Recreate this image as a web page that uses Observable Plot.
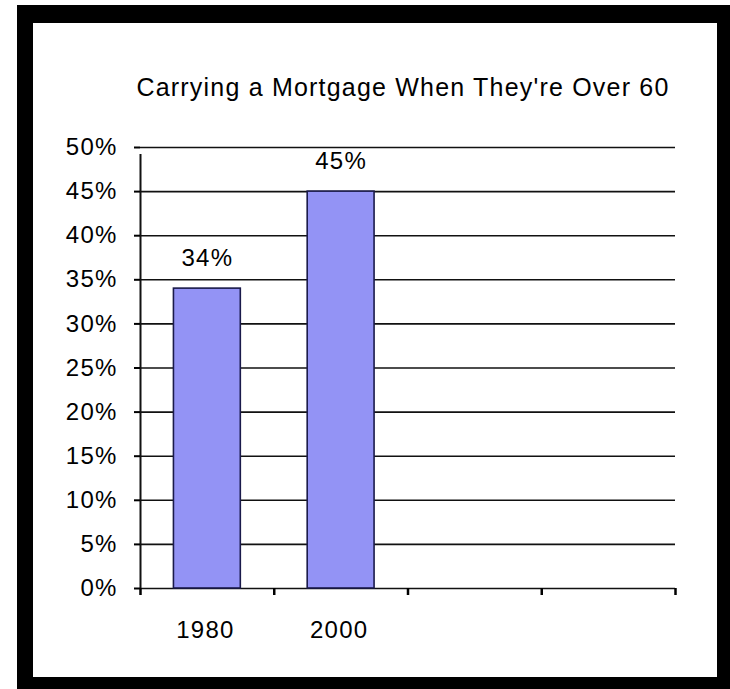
<!DOCTYPE html>
<html>
<head>
<meta charset="utf-8">
<script src="https://cdn.jsdelivr.net/npm/d3@7"></script>
<script src="https://cdn.jsdelivr.net/npm/@observablehq/plot@0.6"></script>
<style>
  html, body { margin: 0; padding: 0; background: #fff; width: 730px; height: 689px; overflow: hidden; }
  #frame { position: absolute; left: 17px; top: 5px; width: 713px; height: 684px; background: #000; }
  #chart { position: absolute; left: 33px; top: 23px; width: 684px; height: 654px; background: #fff; }
  #chart svg { display: block; background: #fff; }
  #chart svg text { letter-spacing: 1.2px; }
</style>
</head>
<body>
<div id="frame"></div>
<div id="chart"></div>
<script>
const title = "Carrying a Mortgage When They're Over 60";
const categories = ["1980", "2000", "", ""];
const values = [0.34, 0.45, null, null];
const yTicks = [0, 0.05, 0.10, 0.15, 0.20, 0.25, 0.30, 0.35, 0.40, 0.45, 0.50];

const data = categories.map((c, i) => ({category: c, index: i, value: values[i]}));
const bars = data.filter(d => d.value != null);
const pct = d3.format(".0%");
const font = "'Liberation Sans', Arial, sans-serif";

const chart = Plot.plot({
  width: 684,
  height: 654,
  marginLeft: 107,
  marginRight: 42,
  marginTop: 124,
  marginBottom: 89,
  style: {fontFamily: font, color: "#000", background: "#fff"},
  x: {type: "linear", domain: [0, categories.length], axis: null},
  y: {domain: [0, 0.5], axis: null},
  marks: [
    Plot.ruleY(yTicks, {stroke: "#111", strokeWidth: 1.6}),
    Plot.rectY(bars, {
      x1: d => d.index + 0.25,
      x2: d => d.index + 0.75,
      y: "value",
      fill: "#9393f5",
      stroke: "#1a1a4a",
      strokeWidth: 1.6
    }),
    Plot.ruleX([0], {y1: 0, y2: 0.5, stroke: "#111", strokeWidth: 2, insetBottom: -7}),
    Plot.axisY({
      ticks: yTicks,
      tickFormat: pct,
      tickSize: 6,
      tickPadding: 17,
      fontSize: 24,
      strokeWidth: 2,
      label: null
    }),
    Plot.axisX({
      ticks: d3.range(categories.length + 1),
      tickFormat: () => "",
      tickSize: 7,
      strokeWidth: 2.5,
      label: null
    }),
    Plot.text(bars, {
      x: d => d.index + 0.5,
      y: "value",
      text: d => pct(d.value),
      lineAnchor: "bottom",
      dy: -23,
      fontSize: 24,
      fill: "#000"
    }),
    Plot.text(data, {
      x: d => d.index + 0.5,
      text: "category",
      frameAnchor: "bottom",
      lineAnchor: "bottom",
      dx: -2,
      dy: 49,
      fontSize: 24,
      fill: "#000"
    }),
    Plot.text([title], {
      frameAnchor: "top",
      lineAnchor: "bottom",
      dx: -5,
      dy: -52,
      fontSize: 25,
      fill: "#000"
    })
  ]
});
document.getElementById("chart").appendChild(chart);
</script>
</body>
</html>
